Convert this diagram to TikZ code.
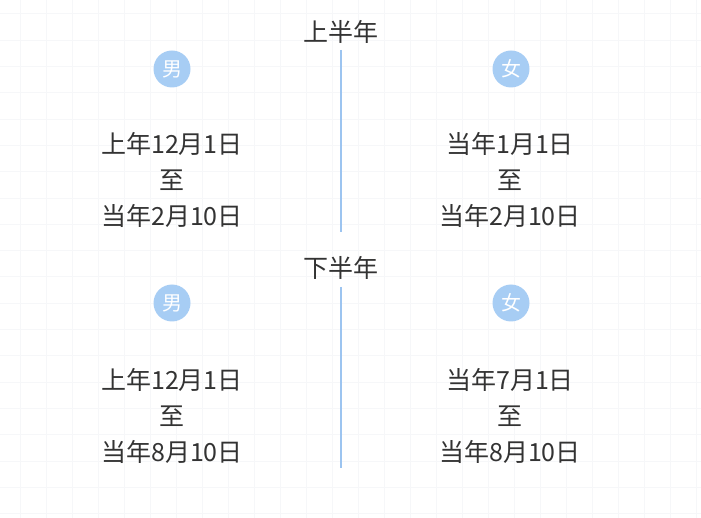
\documentclass[tikz,border=0pt]{standalone}
\usepackage{fontspec}
\setmainfont{Noto Sans CJK SC}
\definecolor{dotblue}{HTML}{A7CDF4}
\definecolor{linkblue}{HTML}{9CC4F0}
\definecolor{gridgray}{HTML}{F6F7F9}
\definecolor{txtgray}{HTML}{333333}
\tikzset{
  sexdot/.style={circle, fill=dotblue, text=white, minimum size=37pt, inner sep=0pt, font=\fontsize{20}{20}\selectfont},
  datetext/.style={align=center, text=txtgray, font=\fontsize{25}{36}\selectfont},
  halftitle/.style={text=txtgray, font=\fontsize{25}{25}\selectfont}
}
\begin{document}
\begin{tikzpicture}[x=1pt,y=-1pt]
  \useasboundingbox (0,0) rectangle (701,518);
  % Background grid
  \foreach \gx in {20,46,...,700} \draw[gridgray, line width=1pt] (\gx,0) -- (\gx,518);
  \foreach \gy in {14,40.3,...,518} \draw[gridgray, line width=1pt] (0,\gy) -- (701,\gy);

  % Upper half
  \node[halftitle] (uptitle) at (341,32) {上半年};
  \coordinate (uptop) at (341,50);
  \coordinate (upbot) at (341,232);
  \draw[linkblue, line width=1.2pt] (uptop) -- (upbot);
  \node[sexdot] (upmale) at (172,69) {男};
  \node[sexdot] (upfemale) at (511,69) {女};
  \node[datetext] (upmaletext) at (172,180) {上年12月1日\\至\\当年2月10日};
  \node[datetext] (upfemaletext) at (510,180) {当年1月1日\\至\\当年2月10日};

  % Lower half
  \node[halftitle] (lowtitle) at (341,268) {下半年};
  \coordinate (lowtop) at (341,287);
  \coordinate (lowbot) at (341,468);
  \draw[linkblue, line width=1.2pt] (lowtop) -- (lowbot);
  \node[sexdot] (lowmale) at (172,303) {男};
  \node[sexdot] (lowfemale) at (511,303) {女};
  \node[datetext] (lowmaletext) at (172,416) {上年12月1日\\至\\当年8月10日};
  \node[datetext] (lowfemaletext) at (510,416) {当年7月1日\\至\\当年8月10日};
\end{tikzpicture}
\end{document}
